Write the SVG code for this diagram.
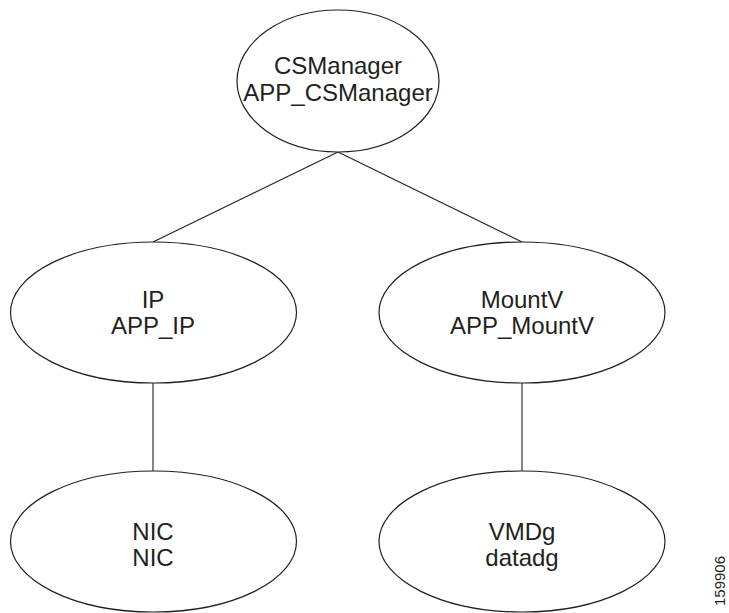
<svg xmlns="http://www.w3.org/2000/svg" width="729" height="613" viewBox="0 0 729 613">
<style>
.n{fill:#fff;stroke:#231f20;stroke-width:1.2}
.t{font-family:"Liberation Sans",Arial,sans-serif;font-size:24px;fill:#231f20;text-anchor:middle}
.c{stroke:#231f20;stroke-width:1.1;fill:none}
</style>
<rect width="729" height="613" fill="#fff"/>
<g id="connectors">
<line class="c" x1="338" y1="152" x2="153" y2="242"/>
<line class="c" x1="338" y1="152" x2="522" y2="242"/>
<line class="c" x1="153" y1="383" x2="153" y2="471"/>
<line class="c" x1="522" y1="383" x2="522" y2="471"/>
</g>
<g id="csmanager">
<ellipse class="n" cx="338" cy="81" rx="101" ry="71"/>
<text class="t" x="338" y="74">CSManager</text>
<text class="t" x="338" y="101">APP_CSManager</text>
</g>
<g id="ip">
<ellipse class="n" cx="153.5" cy="312.5" rx="143" ry="70.5"/>
<text class="t" x="153" y="308">IP</text>
<text class="t" x="153" y="334">APP_IP</text>
</g>
<g id="mountv">
<ellipse class="n" cx="522" cy="312.5" rx="143" ry="70.5"/>
<text class="t" x="522" y="308">MountV</text>
<text class="t" x="522" y="334">APP_MountV</text>
</g>
<g id="nic">
<ellipse class="n" cx="153.5" cy="541.5" rx="143" ry="70.5"/>
<text class="t" x="153" y="540">NIC</text>
<text class="t" x="153" y="566">NIC</text>
</g>
<g id="vmdg">
<ellipse class="n" cx="522" cy="541.5" rx="143" ry="70.5"/>
<text class="t" x="522" y="540">VMDg</text>
<text class="t" x="522" y="566">datadg</text>
</g>
<text font-family="Liberation Sans,Arial,sans-serif" font-size="15" fill="#231f20" transform="translate(725,606) rotate(-90)">159906</text>
</svg>
